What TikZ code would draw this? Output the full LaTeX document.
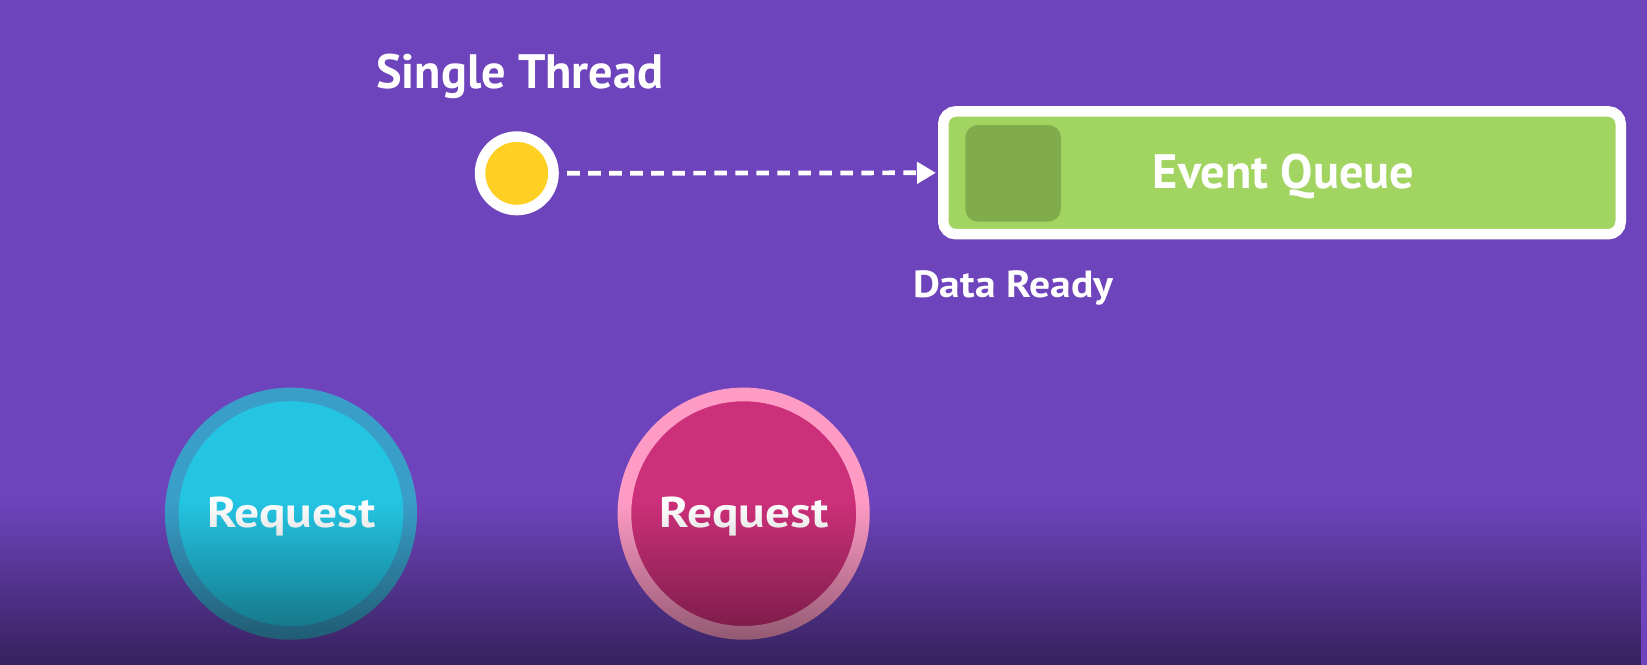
\documentclass[tikz,border=0pt]{standalone}
\usepackage{fontspec}
\setmainfont{PT Sans}
\usetikzlibrary{arrows.meta,fadings}
\definecolor{bgpurple}{HTML}{6E44BC}
\definecolor{dotyellow}{HTML}{FFD024}
\definecolor{qgreen}{HTML}{A2D462}
\definecolor{qdark}{HTML}{80AC4C}
\definecolor{cyanring}{HTML}{399FC9}
\definecolor{cyanfill}{HTML}{24C5E3}
\definecolor{pinkring}{HTML}{FF9CC6}
\definecolor{pinkfill}{HTML}{CD307A}
\tikzfading[name=fadedown, top color=transparent!100, bottom color=transparent!0]
\tikzset{
  lbl/.style={text=white, inner sep=0pt, anchor=base},
  bigtxt/.style={lbl, font=\fontsize{46}{54}\selectfont\bfseries},
  smalltxt/.style={lbl, font=\fontsize{36}{42}\selectfont\bfseries},
  reqtxt/.style={lbl, font=\fontsize{41}{48}\selectfont\bfseries, xscale=1.15},
  threaddot/.style={circle, fill=dotyellow, draw=white, line width=10pt, minimum size=70pt, inner sep=0pt},
  queuebox/.style={rectangle, rounded corners=12pt, fill=qgreen, draw=white, line width=10pt, minimum width=645pt, minimum height=117pt, inner sep=0pt},
  slotbox/.style={rectangle, rounded corners=12pt, fill=qdark, minimum width=91pt, minimum height=92pt, inner sep=0pt},
  reqcircle/.style={circle, line width=13pt, minimum size=227pt, inner sep=0pt},
  flow/.style={draw=white, line width=4.5pt, dash pattern=on 12pt off 8pt, -{Triangle[length=18pt,width=20pt]}},
}
\begin{document}
\begin{tikzpicture}[x=1pt,y=-1pt]
\fill[bgpurple] (0,0) rectangle (1568,633);
\useasboundingbox (0,0) rectangle (1568,633);

\node[bigtxt, anchor=base west] (title) at (358,84) {Single Thread};
\node[threaddot] (thread) at (492,165) {};
\node[queuebox] (queue) at (1220.5,164.5) {};
\node[slotbox] (slot) at (964.5,165) {};
\node[bigtxt, xscale=1.0] (qlabel) at (1222,179) {Event Queue};
\node[smalltxt, anchor=base west, xscale=1.1] (ready) at (869,283) {Data Ready};
\draw[flow, shorten <=8pt, shorten >=2pt] (thread.east) -- (queue.west);

\node[reqcircle, draw=cyanring, fill=cyanfill] (req1) at (277,489) {};
\node[reqcircle, draw=pinkring, fill=pinkfill] (req2) at (708,489) {};
\node[reqtxt] (req1t) at (277.5,502) {Request};
\node[reqtxt] (req2t) at (708.5,502) {Request};

\fill[black, opacity=0.5, path fading=fadedown] (0,478) rectangle (1568,633);
\end{tikzpicture}
\end{document}
